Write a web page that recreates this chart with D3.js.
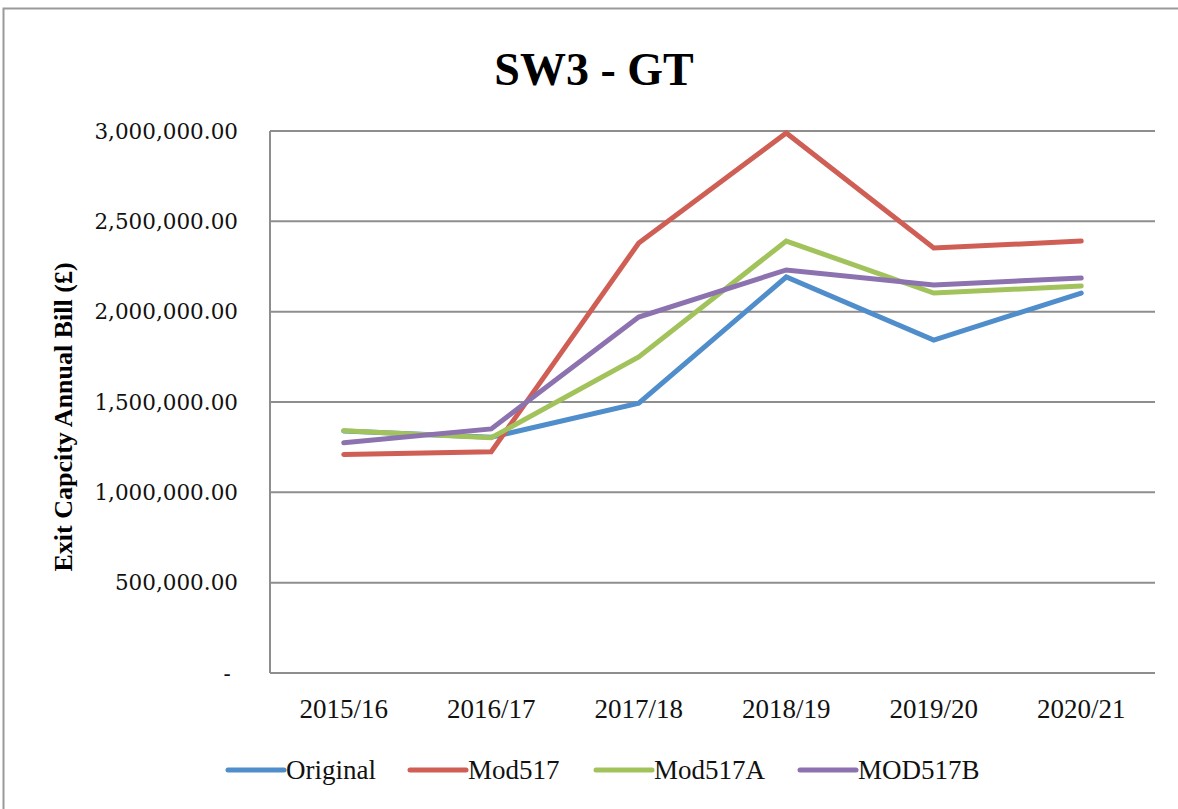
<!DOCTYPE html>
<html>
<head>
<meta charset="utf-8">
<script src="https://cdn.jsdelivr.net/npm/d3@7"></script>
<style>
  body { margin: 0; background: #fff; }
</style>
</head>
<body>
<div id="chart"></div>
<script>
// chart data
var years = ["2015/16", "2016/17", "2017/18", "2018/19", "2019/20", "2020/21"];
var original = [1340000, 1305000, 1494000, 2192000, 1843000, 2103000];
var mod517 = [1210000, 1225000, 2380000, 2989000, 2352000, 2391000];
var mod517A = [1341000, 1302000, 1749000, 2391000, 2103000, 2142000];
var mod517B = [1275000, 1351000, 1970000, 2231000, 2148000, 2186000];
var yTicks = [0, 500000, 1000000, 1500000, 2000000, 2500000, 3000000];

var series = [
    { name: "Original", values: original, color: "#4F8DCB" },
    { name: "Mod517", values: mod517, color: "#CF5F55" },
    { name: "Mod517A", values: mod517A, color: "#A2C35C" },
    { name: "MOD517B", values: mod517B, color: "#8C72AF" }
];

var W = 1178, H = 809;
var margin = { top: 131, right: 23, bottom: 136, left: 270 },
    width = W - margin.left - margin.right,
    height = H - margin.top - margin.bottom;

var svg = d3.select("#chart").append("svg")
    .attr("width", W)
    .attr("height", H);

// outer frame
svg.append("rect")
    .attr("x", 3.5).attr("y", 8.5)
    .attr("width", W + 20).attr("height", H + 20)
    .attr("fill", "none")
    .attr("stroke", "#9a9a9a")
    .attr("stroke-width", 2);

// title
svg.append("text")
    .attr("x", 594).attr("y", 85)
    .attr("text-anchor", "middle")
    .style("font-family", "'Liberation Serif', serif")
    .style("font-weight", "bold")
    .style("font-size", "46px")
    .text("SW3 - GT");

var g = svg.append("g")
    .attr("transform", "translate(" + margin.left + "," + margin.top + ")");

var x = d3.scaleBand().domain(years).range([0, width]);
var y = d3.scaleLinear().domain([0, 3000000]).range([height, 0]);

// gridlines
g.selectAll("line.grid")
    .data(yTicks.filter(function (d) { return d > 0; }))
    .enter().append("line")
    .attr("class", "grid")
    .attr("x1", 0).attr("x2", width)
    .attr("y1", function (d) { return y(d); })
    .attr("y2", function (d) { return y(d); })
    .attr("stroke", "#8e8e8e")
    .attr("stroke-width", 2);

// axis lines
g.append("line")
    .attr("x1", 0).attr("x2", 0).attr("y1", 0).attr("y2", height)
    .attr("stroke", "#8e8e8e").attr("stroke-width", 2);
g.append("line")
    .attr("x1", 0).attr("x2", width).attr("y1", height).attr("y2", height)
    .attr("stroke", "#8e8e8e").attr("stroke-width", 2);

// y tick labels
var fmt = d3.format(",.2f");
g.selectAll("text.ytick")
    .data(yTicks)
    .enter().append("text")
    .attr("class", "ytick")
    .attr("x", function (d) { return d === 0 ? -43 : -32; })
    .attr("y", function (d) { return y(d); })
    .attr("dy", "0.35em")
    .attr("text-anchor", function (d) { return d === 0 ? "middle" : "end"; })
    .style("font-family", "'DejaVu Serif', serif")
    .style("font-size", "21.5px")
    .style("fill", "#111")
    .text(function (d) { return d === 0 ? "-" : fmt(d); });

// x tick labels
g.selectAll("text.xtick")
    .data(years)
    .enter().append("text")
    .attr("class", "xtick")
    .attr("x", function (d) { return x(d) + x.bandwidth() / 2; })
    .attr("y", height + 45)
    .attr("text-anchor", "middle")
    .style("font-family", "'Liberation Serif', serif")
    .style("font-size", "27px")
    .style("fill", "#111")
    .text(function (d) { return d; });

// y axis title
svg.append("text")
    .attr("transform", "translate(72,417) rotate(-90)")
    .attr("text-anchor", "middle")
    .style("font-family", "'Liberation Serif', serif")
    .style("font-weight", "bold")
    .style("font-size", "26px")
    .text("Exit Capcity Annual Bill (\u00a3)");

// lines
var line = d3.line()
    .x(function (d, i) { return x(years[i]) + x.bandwidth() / 2; })
    .y(function (d) { return y(d); });

g.selectAll("path.series")
    .data(series)
    .enter().append("path")
    .attr("class", "series")
    .attr("d", function (s) { return line(s.values); })
    .attr("fill", "none")
    .attr("stroke", function (s) { return s.color; })
    .attr("stroke-width", 5)
    .attr("stroke-linecap", "round")
    .attr("stroke-linejoin", "miter");

// legend
var legendX = [228, 410, 596, 800];
var legend = svg.selectAll("g.legend")
    .data(series)
    .enter().append("g")
    .attr("class", "legend")
    .attr("transform", function (d, i) { return "translate(" + legendX[i] + ",770)"; });

legend.append("line")
    .attr("x1", 0).attr("x2", 56)
    .attr("y1", 0).attr("y2", 0)
    .attr("stroke", function (d) { return d.color; })
    .attr("stroke-width", 5)
    .attr("stroke-linecap", "round");

legend.append("text")
    .attr("x", 58).attr("y", 9)
    .style("font-family", "'Liberation Serif', serif")
    .style("font-size", "27px")
    .style("fill", "#111")
    .text(function (d) { return d.name; });
</script>
</body>
</html>
